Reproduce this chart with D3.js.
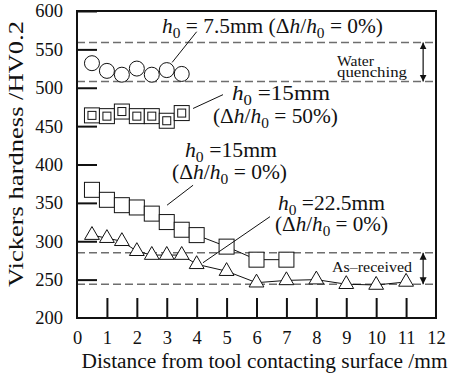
<!DOCTYPE html>
<html>
<head>
<meta charset="utf-8">
<script src="https://cdn.jsdelivr.net/npm/d3@7"></script>
<style>
  body { margin: 0; background: #fff; }
  text { font-family: "Liberation Serif", "Times New Roman", serif; fill: #111; }
</style>
</head>
<body>
<div id="chart"></div>
<script>
// data
var xTicks = [0, 1, 2, 3, 4, 5, 6, 7, 8, 9, 10, 11, 12];
var yTicks = [200, 250, 300, 350, 400, 450, 500, 550, 600];

var xShort = [0.5, 1, 1.5, 2, 2.5, 3, 3.5];
var hv75 = [532, 522, 517, 525, 517, 523, 518];          // h0 = 7.5mm, circles
var hv15r50 = [464, 463, 469, 463, 463, 457, 467];       // h0 = 15mm, 50%, double squares

var xSq = [0.5, 1, 1.5, 2, 2.5, 3, 3.5, 4, 5, 6, 7];
var hv15 = [367, 354, 347, 344, 336, 325, 315, 308, 293, 276, 276];

var xTri = [0.5, 1, 1.5, 2, 2.5, 3, 3.5, 4, 5, 6, 7, 8, 9, 10, 11];
var hv225 = [308, 304, 300, 287, 282, 282, 282, 270, 261, 246, 249, 250, 244, 243, 247];

var waterBand = [508, 559];
var asReceivedBand = [244, 285];

var svgWidth = 449, svgHeight = 378;
var margin = {top: 11, right: 13, bottom: 60, left: 77};
var width = svgWidth - margin.left - margin.right;
var height = svgHeight - margin.top - margin.bottom;

var svg = d3.select("#chart")
  .append("svg")
    .attr("width", svgWidth)
    .attr("height", svgHeight)
  .append("g")
    .attr("transform", "translate(" + margin.left + "," + margin.top + ")");

var x = d3.scaleLinear().domain([0, 12]).range([0, width]);
var y = d3.scaleLinear().domain([200, 600]).range([height, 0]);

// reference bands (dashed)
[waterBand, asReceivedBand].forEach(function(b) {
  b.forEach(function(v) {
    svg.append("line")
      .attr("x1", 0).attr("x2", width)
      .attr("y1", y(v)).attr("y2", y(v))
      .attr("stroke", "#6e6e6e").attr("stroke-width", 1.5)
      .attr("stroke-dasharray", "8,4");
  });
});

// inward ticks
var xAxis = svg.append("g")
  .attr("transform", "translate(0," + height + ")")
  .call(d3.axisBottom(x).tickValues(xTicks).tickSizeInner(-20).tickSizeOuter(0).tickPadding(26));
var yAxis = svg.append("g")
  .call(d3.axisLeft(y).tickValues(yTicks).tickSizeInner(-20).tickSizeOuter(0).tickPadding(25));
[xAxis, yAxis].forEach(function(a) {
  a.select(".domain").remove();
  a.selectAll(".tick line").attr("stroke", "#111").attr("stroke-width", 2);
  a.selectAll(".tick text")
    .style("font-family", "'Liberation Serif', serif")
    .style("font-size", "18.5px").attr("fill", "#111");
});
xAxis.selectAll(".tick text").attr("dy", "0");
xAxis.selectAll(".tick").filter(function(d) { return d === 0 || d === 12; }).select("line").remove();
yAxis.selectAll(".tick text").attr("x", -14);
yAxis.selectAll(".tick").filter(function(d) { return d === 200; }).select("line").remove();

// connecting lines
var line = d3.line().x(function(d) { return x(d[0]); }).y(function(d) { return y(d[1]); });
svg.append("path")
  .datum(d3.zip(xSq, hv15))
  .attr("d", line).attr("fill", "none").attr("stroke", "#111").attr("stroke-width", 1);
svg.append("path")
  .datum(d3.zip(xTri, hv225))
  .attr("d", line).attr("fill", "none").attr("stroke", "#111").attr("stroke-width", 1);

// leader lines (data units)
var leaders = [
  [[4.0, 573], [3.18, 533]],
  [[3.88, 473], [4.88, 491]],
  [[3.88, 373], [3.01, 347]],
  [[6.45, 332], [4.21, 272]]
];
leaders.slice(0, 3).forEach(function(l) {
  svg.append("path").datum(l).attr("d", line)
    .attr("stroke", "#111").attr("stroke-width", 1).attr("fill", "none");
});

// markers
svg.selectAll(".circ").data(d3.zip(xShort, hv75)).enter()
  .append("circle")
    .attr("cx", function(d) { return x(d[0]); })
    .attr("cy", function(d) { return y(d[1]); })
    .attr("r", 7.5)
    .attr("fill", "#fff").attr("stroke", "#111").attr("stroke-width", 1);

var dsq = svg.selectAll(".dsq").data(d3.zip(xShort, hv15r50)).enter().append("g");
dsq.append("rect")
  .attr("x", function(d) { return x(d[0]) - 7.5; })
  .attr("y", function(d) { return y(d[1]) - 7.5; })
  .attr("width", 15).attr("height", 15)
  .attr("fill", "#fff").attr("stroke", "#111").attr("stroke-width", 1);
dsq.append("rect")
  .attr("x", function(d) { return x(d[0]) - 4; })
  .attr("y", function(d) { return y(d[1]) - 4; })
  .attr("width", 8).attr("height", 8)
  .attr("fill", "none").attr("stroke", "#111").attr("stroke-width", 1);

svg.selectAll(".sq").data(d3.zip(xSq, hv15)).enter()
  .append("rect")
    .attr("x", function(d) { return x(d[0]) - 7.5; })
    .attr("y", function(d) { return y(d[1]) - 7.5; })
    .attr("width", 15).attr("height", 15)
    .attr("fill", "#fff").attr("stroke", "#111").attr("stroke-width", 1);

var tri = d3.symbol().type(d3.symbolTriangle).size(95);
svg.selectAll(".tri").data(d3.zip(xTri, hv225)).enter()
  .append("path")
    .attr("d", tri)
    .attr("transform", function(d) { return "translate(" + x(d[0]) + "," + y(d[1]) + ")"; })
    .attr("fill", "#fff").attr("stroke", "#111").attr("stroke-width", 1);

// this leader crosses over a square, so draw it on top
svg.append("path").datum(leaders[3]).attr("d", line)
  .attr("stroke", "#111").attr("stroke-width", 1).attr("fill", "none");

// frame
svg.append("rect")
  .attr("width", width).attr("height", height)
  .attr("fill", "none").attr("stroke", "#111").attr("stroke-width", 2);

// rich text helper: "i" italic, "sub" subscript
function rich(px, py, parts, size, len) {
  var t = svg.append("text").attr("x", px).attr("y", py).style("font-size", size + "px");
  var low = false;
  parts.forEach(function(p) {
    var s = t.append("tspan").text(p[0]);
    if (p[1] === "i") s.style("font-style", "italic");
    if (p[1] === "sub") {
      s.style("font-size", (size * 0.72) + "px");
      if (!low) { s.attr("dy", 5); low = true; }
    } else if (low) {
      s.attr("dy", -5); low = false;
    }
  });
  if (len) t.attr("textLength", len).attr("lengthAdjust", "spacingAndGlyphs");
  return t;
}
var hSub = [["h", "i"], ["0", "sub"]];
var ratioParts = function(v) {
  return [["(Δ"], ["h", "i"], ["/"], ["h", "i"], ["0", "sub"], [" = " + v + ")"]];
};
var fs = 20;
rich(85, 22, hSub.concat([[" = 7.5mm "]]).concat(ratioParts("0%")), fs, 221);
rich(155, 89, hSub.concat([[" =15mm"]]), fs, 98);
rich(136, 112, ratioParts("50%"), fs, 125);
rich(108, 146, hSub.concat([[" =15mm"]]), fs, 92);
rich(95, 168, ratioParts("0%"), fs, 115);
rich(201, 199, hSub.concat([[" =22.5mm"]]), fs, 107);
rich(198, 220, ratioParts("0%"), fs, 113);

function label(px, py, s, len) {
  svg.append("text").attr("x", px).attr("y", py).style("font-size", "14.5px")
    .attr("textLength", len).attr("lengthAdjust", "spacingAndGlyphs").text(s);
}
label(260, 55, "Water", 37);
label(260, 65.5, "quenching", 70);
label(255, 261, "As–received", 80);

// double arrows
svg.append("defs").append("marker")
  .attr("id", "ah").attr("viewBox", "0 0 10 10").attr("refX", 10).attr("refY", 5)
  .attr("markerWidth", 7).attr("markerHeight", 8).attr("orient", "auto-start-reverse")
  .attr("markerUnits", "userSpaceOnUse")
  .append("path").attr("d", "M0,0L10,5L0,10Z").attr("fill", "#111");
[waterBand, asReceivedBand].forEach(function(b) {
  svg.append("line")
    .attr("x1", x(11.57)).attr("x2", x(11.57))
    .attr("y1", y(b[0])).attr("y2", y(b[1]))
    .attr("stroke", "#111").attr("stroke-width", 1.2)
    .attr("marker-start", "url(#ah)").attr("marker-end", "url(#ah)");
});

// axis titles
svg.append("text")
  .attr("x", width / 2 + 8).attr("y", height + 50)
  .attr("text-anchor", "middle").style("font-size", "20px")
  .attr("textLength", 366).attr("lengthAdjust", "spacingAndGlyphs")
  .text("Distance from tool contacting surface /mm");
svg.append("text")
  .attr("transform", "translate(-54," + (height / 2 - 10.5) + ") rotate(-90)")
  .attr("text-anchor", "middle").style("font-size", "22px")
  .attr("textLength", 266).attr("lengthAdjust", "spacingAndGlyphs")
  .text("Vickers hardness /HV0.2");
</script>
</body>
</html>
